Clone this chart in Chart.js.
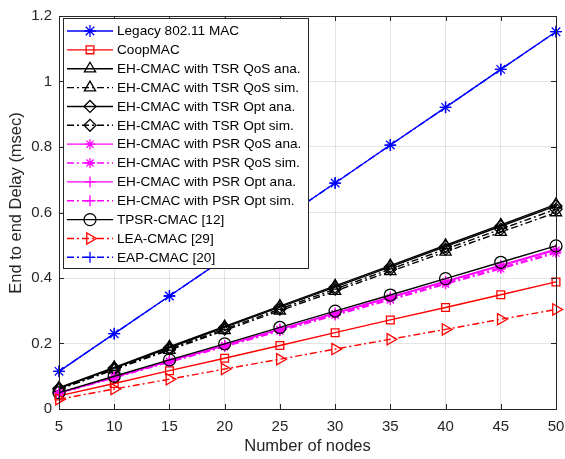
<!DOCTYPE html>
<html>
<head>
<meta charset="utf-8">
<script src="https://cdn.jsdelivr.net/npm/chart.js@4/dist/chart.umd.min.js"></script>
<style>
  html, body { margin: 0; padding: 0; background: #fff; }
  canvas { display: block; }
</style>
</head>
<body>
<canvas id="delay" width="565" height="459"></canvas>
<script>
// Number of nodes on the x axis
const nodes = [5, 10, 15, 20, 25, 30, 35, 40, 45, 50];

// End-to-end delay (msec) per scheme
const legacyMac  = [0.115, 0.230, 0.345, 0.460, 0.575, 0.690, 0.806, 0.921, 1.037, 1.152];
const coopMac    = [0.040, 0.078, 0.117, 0.155, 0.194, 0.233, 0.272, 0.310, 0.349, 0.388];
const tsrQosAna  = [0.065, 0.127, 0.190, 0.252, 0.314, 0.376, 0.438, 0.500, 0.562, 0.625];
const tsrQosSim  = [0.060, 0.120, 0.180, 0.240, 0.300, 0.360, 0.420, 0.480, 0.540, 0.600];
const tsrOptAna  = [0.063, 0.125, 0.187, 0.249, 0.311, 0.372, 0.434, 0.496, 0.558, 0.620];
const tsrOptSim  = [0.061, 0.122, 0.183, 0.244, 0.305, 0.366, 0.427, 0.488, 0.549, 0.610];
const psrQosAna  = [0.049, 0.097, 0.146, 0.194, 0.243, 0.291, 0.340, 0.388, 0.437, 0.485];
const psrQosSim  = [0.048, 0.095, 0.143, 0.190, 0.238, 0.286, 0.333, 0.381, 0.428, 0.476];
const psrOptAna  = [0.049, 0.098, 0.147, 0.195, 0.244, 0.293, 0.342, 0.390, 0.439, 0.488];
const psrOptSim  = [0.048, 0.096, 0.144, 0.192, 0.240, 0.288, 0.336, 0.384, 0.432, 0.480];
const tpsrCmac   = [0.050, 0.100, 0.150, 0.199, 0.249, 0.299, 0.348, 0.398, 0.448, 0.498];
const leaCmac    = [0.030, 0.061, 0.091, 0.122, 0.152, 0.183, 0.213, 0.243, 0.274, 0.304];
const eapCmac    = [0.115, 0.230, 0.345, 0.460, 0.575, 0.690, 0.806, 0.921, 1.037, 1.152];

// Tick labels
const xTickLabels = ['5', '10', '15', '20', '25', '30', '35', '40', '45', '50'];
const yTickLabels = ['0', '0.2', '0.4', '0.6', '0.8', '1', '1.2'];

const FONT = '"Liberation Sans", Arial, Helvetica, sans-serif';
const BLUE = '#0000ff', RED = '#ff0000', BLACK = '#000000', MAGENTA = '#ff00ff';
const SOLID = [], DASHDOT = [7, 3, 2, 3];

function series(label, data, color, dash, style, radius, rotation) {
  return {
    label,
    data: data.map((v, i) => ({ x: nodes[i], y: v })),
    borderColor: color,
    borderWidth: 1.4,
    borderDash: dash,
    pointStyle: style,
    pointRadius: radius,
    pointRotation: rotation || 0,
    pointBorderColor: color,
    pointBackgroundColor: 'rgba(0,0,0,0)',
    pointBorderWidth: 1.3,
    pointHoverRadius: radius,
    fill: false,
    tension: 0,
    clip: false
  };
}

const datasets = [
  series('Legacy 802.11 MAC', legacyMac, BLUE, SOLID, 'star', 6),
  series('CoopMAC', coopMac, RED, SOLID, 'rect', 5.5),
  series('EH-CMAC with TSR QoS ana.', tsrQosAna, BLACK, SOLID, 'triangle', 6.5),
  series('EH-CMAC with TSR QoS sim.', tsrQosSim, BLACK, DASHDOT, 'triangle', 6.5),
  series('EH-CMAC with TSR Opt ana.', tsrOptAna, BLACK, SOLID, 'rectRot', 6),
  series('EH-CMAC with TSR Opt sim.', tsrOptSim, BLACK, DASHDOT, 'rectRot', 6),
  series('EH-CMAC with PSR QoS ana.', psrQosAna, MAGENTA, SOLID, 'star', 5),
  series('EH-CMAC with PSR QoS sim.', psrQosSim, MAGENTA, DASHDOT, 'star', 5),
  series('EH-CMAC with PSR Opt ana.', psrOptAna, MAGENTA, SOLID, 'cross', 5.5),
  series('EH-CMAC with PSR Opt sim.', psrOptSim, MAGENTA, DASHDOT, 'cross', 5.5),
  series('TPSR-CMAC [12]', tpsrCmac, BLACK, SOLID, 'circle', 6),
  series('LEA-CMAC [29]', leaCmac, RED, DASHDOT, 'triangle', 6.5, 90),
  series('EAP-CMAC [20]', eapCmac, BLUE, DASHDOT, 'cross', 5.5)
];
// later series are drawn on top
datasets.forEach((d, i) => { d.order = datasets.length - i; });

// Box frame, inward ticks, axis titles and in-plot legend
const framePlugin = {
  id: 'frame',
  afterDatasetsDraw(chart) {
    const ctx = chart.ctx;
    const a = chart.chartArea;
    const xs = chart.scales.x, ys = chart.scales.y;
    ctx.save();
    ctx.strokeStyle = '#262626';
    ctx.lineWidth = 1;
    ctx.setLineDash([]);
    ctx.strokeRect(Math.round(a.left) + 0.5, Math.round(a.top) + 0.5,
                   Math.round(a.right - a.left), Math.round(a.bottom - a.top));
    const tl = 5;
    ctx.beginPath();
    nodes.forEach(v => {
      const px = Math.round(xs.getPixelForValue(v)) + 0.5;
      ctx.moveTo(px, a.bottom); ctx.lineTo(px, a.bottom - tl);
      ctx.moveTo(px, a.top); ctx.lineTo(px, a.top + tl);
    });
    yTickLabels.forEach(t => {
      const py = Math.round(ys.getPixelForValue(parseFloat(t))) + 0.5;
      ctx.moveTo(a.left, py); ctx.lineTo(a.left + tl, py);
      ctx.moveTo(a.right, py); ctx.lineTo(a.right - tl, py);
    });
    ctx.stroke();

    // axis titles
    ctx.fillStyle = '#262626';
    ctx.font = '16.5px ' + FONT;
    ctx.textAlign = 'center';
    ctx.textBaseline = 'middle';
    ctx.fillText('Number of nodes', (a.left + a.right) / 2, 446);
    ctx.save();
    ctx.translate(16, 203);
    ctx.rotate(-Math.PI / 2);
    ctx.fillText('End to end Delay (msec)', 0, 0);
    ctx.restore();

    // legend
    const bx = 63, by = 18, bw = 245, bh = 250;
    ctx.fillStyle = '#ffffff';
    ctx.fillRect(bx, by, bw, bh);
    ctx.strokeStyle = '#262626';
    ctx.strokeRect(bx + 0.5, by + 0.5, bw, bh);
    const rowH = 18.86;
    ctx.font = '13.6px ' + FONT;
    ctx.textAlign = 'left';
    datasets.forEach((d, i) => {
      const y = by + 13 + i * rowH;
      ctx.strokeStyle = d.borderColor;
      ctx.lineWidth = d.borderWidth;
      ctx.setLineDash(d.borderDash);
      ctx.beginPath();
      ctx.moveTo(67, y); ctx.lineTo(113, y);
      ctx.stroke();
      ctx.setLineDash([]);
      ctx.lineWidth = d.pointBorderWidth;
      ctx.fillStyle = 'rgba(0,0,0,0)';
      if (Chart.helpers && Chart.helpers.drawPoint) {
        Chart.helpers.drawPoint(ctx, {
          pointStyle: d.pointStyle, radius: d.pointRadius,
          rotation: d.pointRotation, borderWidth: d.pointBorderWidth
        }, 90, y);
      }
      ctx.fillStyle = '#000000';
      ctx.fillText(d.label, 117, y + 0.5);
    });
    ctx.restore();
  }
};

new Chart(document.getElementById('delay'), {
  type: 'line',
  data: { datasets },
  options: {
    responsive: false,
    animation: false,
    devicePixelRatio: 1,
    layout: { padding: { top: 16, right: 9, left: 0, bottom: 0 } },
    plugins: { legend: { display: false }, tooltip: { enabled: false } },
    scales: {
      x: {
        type: 'linear',
        min: 5, max: 50,
        afterFit(s) { s.height = 50; s.paddingLeft = 0; s.paddingRight = 0; },
        afterBuildTicks(s) { s.ticks = nodes.map(v => ({ value: v })); },
        ticks: {
          padding: 9,
          color: '#262626',
          font: { family: FONT, size: 15 },
          maxRotation: 0,
          callback: (v, i) => xTickLabels[i]
        },
        grid: { color: 'rgba(0,0,0,0.1)', drawTicks: false, lineWidth: 1 },
        border: { display: false }
      },
      y: {
        min: 0, max: 1.2,
        afterFit(s) { s.width = 59; s.paddingTop = 0; s.paddingBottom = 0; },
        afterBuildTicks(s) { s.ticks = yTickLabels.map(t => ({ value: parseFloat(t) })); },
        ticks: {
          padding: 7,
          color: '#262626',
          font: { family: FONT, size: 15 },
          callback: (v, i) => yTickLabels[i]
        },
        grid: { color: 'rgba(0,0,0,0.1)', drawTicks: false, lineWidth: 1 },
        border: { display: false }
      }
    }
  },
  plugins: [framePlugin]
});
</script>
</body>
</html>
